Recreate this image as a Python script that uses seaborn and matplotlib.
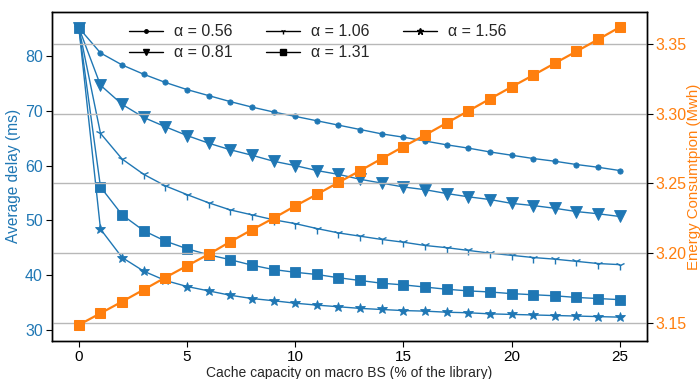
import matplotlib
matplotlib.use("Agg")
import matplotlib.pyplot as plt
import seaborn as sns
import pandas as pd
from matplotlib.lines import Line2D

cache = list(range(26))
alpha_labels = ["α = 0.56", "α = 0.81", "α = 1.06", "α = 1.31", "α = 1.56"]
delay_056 = [85.2, 80.6, 78.4, 76.7, 75.2, 73.9, 72.8, 71.7, 70.7, 69.8, 69.0, 68.2, 67.4, 66.6,
             65.8, 65.2, 64.5, 63.8, 63.2, 62.5, 61.9, 61.3, 60.8, 60.2, 59.7, 59.1]
delay_081 = [85.2, 74.7, 71.2, 68.8, 67.1, 65.5, 64.1, 62.9, 61.9, 60.8, 60.0, 59.1, 58.4, 57.5,
             56.8, 56.1, 55.6, 54.9, 54.3, 53.8, 53.1, 52.7, 52.2, 51.6, 51.2, 50.7]
delay_106 = [85.2, 65.9, 61.2, 58.4, 56.3, 54.7, 53.2, 51.9, 51.0, 50.1, 49.4, 48.5, 47.7, 47.1,
             46.5, 46.0, 45.4, 45.0, 44.5, 44.0, 43.6, 43.2, 42.9, 42.5, 42.1, 41.9]
delay_131 = [85.2, 56.1, 51.0, 48.1, 46.2, 44.8, 43.7, 42.8, 41.8, 41.0, 40.5, 40.1, 39.5, 39.0,
             38.5, 38.2, 37.8, 37.4, 37.1, 36.9, 36.6, 36.4, 36.2, 35.9, 35.7, 35.5]
delay_156 = [85.2, 48.4, 43.2, 40.7, 39.0, 37.9, 37.1, 36.3, 35.7, 35.3, 34.85, 34.5, 34.2, 33.9,
             33.7, 33.5, 33.4, 33.2, 33.1, 32.9, 32.8, 32.7, 32.6, 32.5, 32.4, 32.3]
energy = [3.1484, 3.1567, 3.1651, 3.1737, 3.1824, 3.1908, 3.1991, 3.2081, 3.2167, 3.2250,
          3.2338, 3.2421, 3.2507, 3.2591, 3.2678, 3.2764, 3.2847, 3.2934, 3.3020, 3.3107,
          3.3193, 3.3277, 3.3363, 3.3448, 3.3534, 3.3622]
x_ticks = [0, 5, 10, 15, 20, 25]
left_ticks = [30, 40, 50, 60, 70, 80]
right_ticks = [3.15, 3.20, 3.25, 3.30, 3.35]
right_tick_labels = ["3.15", "3.20", "3.25", "3.30", "3.35"]

delays = [delay_056, delay_081, delay_106, delay_131, delay_156]
markers = ["o", "v", "1", "s", "*"]
msizes = [3.8, 8, 7, 6.5, 7.5]
leg_msizes = [2.5, 5, 4, 5, 4.5]

sns.set_style("ticks")
plt.rcParams["font.family"] = ["Liberation Sans", "DejaVu Sans"]

blue = "#1f77b4"
orange = "#ff7f0e"

fig = plt.figure(figsize=(7, 3.79), dpi=100)
ax1 = fig.add_axes([0.074, 0.101, 0.850, 0.867])
ax2 = ax1.twinx()
ax1.set_zorder(1)
ax2.set_zorder(2)
ax1.patch.set_visible(True)
ax1.patch.set_facecolor("white")
ax2.patch.set_visible(False)

for vals, lab, m, ms in zip(delays, alpha_labels, markers, msizes):
    df = pd.DataFrame({"x": cache, "y": vals})
    sns.lineplot(data=df, x="x", y="y", ax=ax1, color=blue, marker=m, markersize=ms,
                 linewidth=1.0, markeredgecolor=blue, markeredgewidth=1.0 if m == "1" else 0.6,
                 legend=False, zorder=3)

dfe = pd.DataFrame({"x": cache, "y": energy})
sns.lineplot(data=dfe, x="x", y="y", ax=ax2, color=orange, marker="s", markersize=7.5,
             linewidth=1.6, markeredgecolor=orange, legend=False, zorder=3)

ax1.set_xlim(-1.25, 26.25)
ax1.set_ylim(27.99, 88.06)
ax2.set_ylim(3.137, 3.373)
ax1.set_xticks(x_ticks)
ax1.set_yticks(left_ticks)
ax2.set_yticks(right_ticks)
ax2.set_yticklabels(right_tick_labels)

ax1.set_xlabel("Cache capacity on macro BS (% of the library)", fontsize=10, labelpad=1.5)
ax1.set_ylabel("Average delay (ms)", fontsize=11.2, color=blue, labelpad=3)
ax2.set_ylabel("Energy Consumtpion (Mwh)", fontsize=10.8, color=orange, labelpad=0)
ax1.tick_params(axis="y", labelcolor=blue, color="black", labelsize=11.5, length=4, pad=2.5)
ax1.tick_params(axis="x", labelsize=11, length=4, colors="black", pad=2.5)
ax2.tick_params(axis="y", labelcolor=orange, color="black", labelsize=11.5, length=4, pad=2.5)
for ax in (ax1, ax2):
    for sp in ax.spines.values():
        sp.set_color("black")
        sp.set_linewidth(1.0)

ax1.grid(False)
ax2.grid(False)
for yv in right_ticks:
    ax2.axhline(yv, color="#b8b8b8", linewidth=1.0, zorder=0)

handles = [Line2D([0], [0], color="black", marker=m, markersize=s, linewidth=1.0)
           for m, s in zip(markers, leg_msizes)]
ax1.legend(handles, alpha_labels, loc="upper center", bbox_to_anchor=(0.447, 1.0), ncol=3,
           frameon=False, fontsize=11.5, handlelength=2.1, columnspacing=2.1,
           labelspacing=0.38, handletextpad=0.7, borderaxespad=0.35)

fig.savefig("out.png", dpi=100)
